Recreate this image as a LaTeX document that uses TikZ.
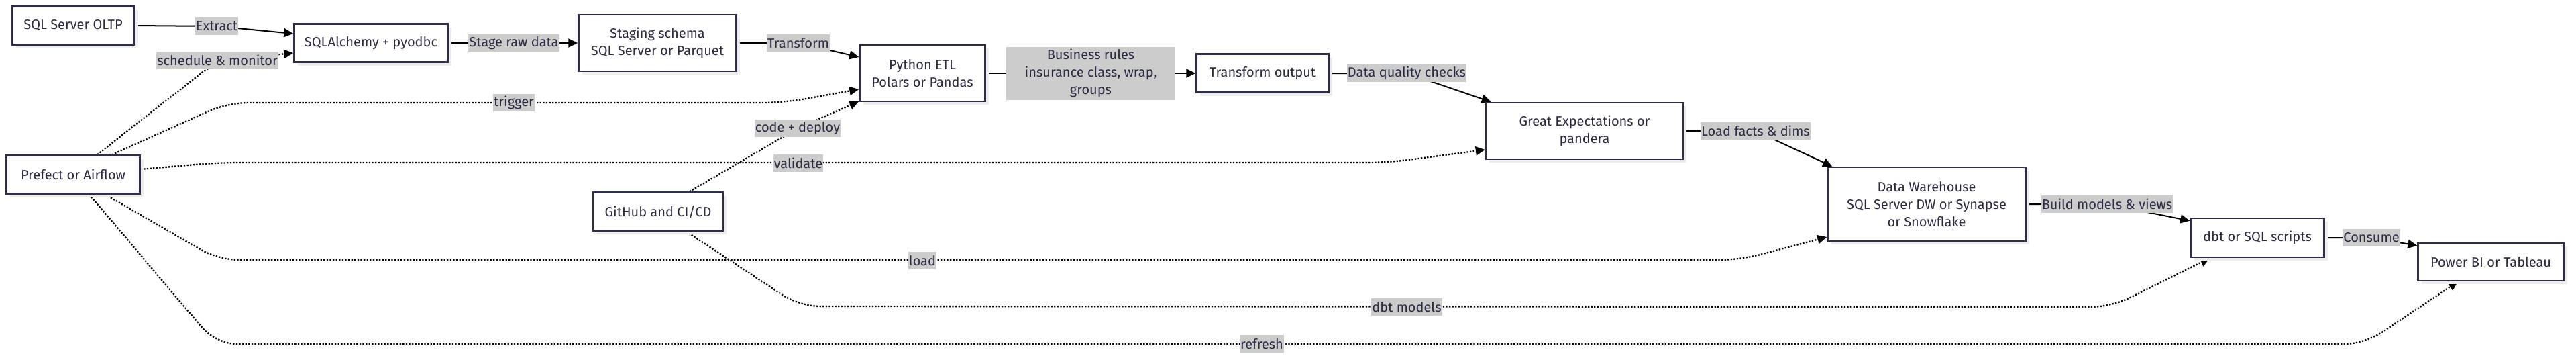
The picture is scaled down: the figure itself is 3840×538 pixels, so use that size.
\documentclass[tikz,border=0pt]{standalone}
\usepackage{fontspec}
\setmainfont{Fira Sans}
\usetikzlibrary{arrows.meta,shadows}
\definecolor{ink}{HTML}{2B2B40}
\definecolor{nodeline}{HTML}{2E2E48}
\definecolor{lblgrey}{HTML}{CCCCCC}
\pgfdeclarelayer{edges}
\pgfsetlayers{edges,main}

\begin{document}
\begin{tikzpicture}[x=1pt,y=-1pt]
            \tikzset{
	every node/.style={font=\fontsize{20}{26}\selectfont, text=ink, align=center},
	box/.style={draw=nodeline, line width=2.5pt, fill=white, inner sep=0pt,
		drop shadow={shadow xshift=5pt, shadow yshift=-5pt, fill=black!7, opacity=1}},
	lbl/.style={fill=lblgrey, inner xsep=1pt, inner ysep=0pt, minimum height=26pt},
	flow/.style={draw=black, line width=2pt, -{Triangle[length=14pt,width=13pt]}},
	ctrl/.style={flow, line width=2.3pt, dash pattern=on 2.3pt off 2.3pt, rounded corners=30pt}
}
\useasboundingbox (0,0) rectangle (3840,538);

% pipeline
\node[box, minimum width=181pt, minimum height=57pt] (oltp) at (109,38) {SQL Server OLTP};
\node[box, minimum width=229pt, minimum height=57pt] (sqla) at (553,64) {SQLAlchemy + pyodbc};
\node[box, minimum width=235pt, minimum height=84pt] (stage) at (980,64) {Staging schema\\SQL Server or Parquet};
\node[box, minimum width=187pt, minimum height=84pt] (etl) at (1375,109) {Python ETL\\Polars or Pandas};
\node[box, minimum width=197pt, minimum height=57pt] (tout) at (1882,109) {Transform output};
\node[box, minimum width=294pt, minimum height=84pt] (ge) at (2362,195) {Great Expectations or\\pandera};
\node[box, minimum width=295pt, minimum height=110pt] (dw) at (2872,304) {Data Warehouse\\SQL Server DW or Synapse\\or Snowflake};
\node[box, minimum width=199pt, minimum height=58pt] (dbt) at (3365,354) {dbt or SQL scripts};
\node[box, minimum width=217pt, minimum height=56pt] (bi) at (3713,390) {Power BI or Tableau};
\node[box, minimum width=199pt, minimum height=57pt] (pref) at (109,260) {Prefect or Airflow};
\node[box, minimum width=194pt, minimum height=57pt] (git) at (981,315) {GitHub and CI/CD};

% edge labels
\node[lbl] (lExtract) at (323,39) {Extract};
\node[lbl] (lSchedule) at (324,90) {schedule \& monitor};
\node[lbl] (lStage) at (766,64) {Stage raw data};
\node[lbl] (lTransform) at (1190,64) {Transform};
\node[lbl, minimum width=252pt, minimum height=79pt] (lRules) at (1626,109) {Business rules\\insurance class, wrap,\\groups};
\node[lbl] (lQuality) at (2097,109) {Data quality checks};
\node[lbl] (lLoadFacts) at (2617,195) {Load facts \& dims};
\node[lbl] (lBuild) at (3141,304) {Build models \& views};
\node[lbl] (lConsume) at (3535,354) {Consume};
\node[lbl] (lTrigger) at (766,153) {trigger};
\node[lbl] (lValidate) at (1190,243) {validate};
\node[lbl] (lLoad) at (1375,388) {load};
\node[lbl] (lRefresh) at (1881,512) {refresh};
\node[lbl] (lDeploy) at (1189,191) {code + deploy};
\node[lbl] (lDbt) at (2097,457) {dbt models};

\begin{pgfonlayer}{edges}
% data flow
\draw[flow] (oltp.east) -- (lExtract.center) -- ([yshift=14pt]sqla.west);
\draw[flow] (sqla) -- (stage);
\draw[flow] (stage.east) -- (lTransform.center) -- ([yshift=24pt]etl.west);
\draw[flow] (etl) -- (tout);
\draw[flow] (tout.east) -- (lQuality.center) -- ([xshift=9pt]ge.north west);
\draw[flow] (ge.east) -- (lLoadFacts.center) -- ([xshift=8pt]dw.north west);
\draw[flow] (dw.east) -- (lBuild.center) -- ([yshift=-5pt]dbt.north west);
\draw[flow] (dbt.east) -- (lConsume.center) -- ([yshift=-5pt]bi.north west);
% orchestration
\draw[ctrl] ([xshift=36pt]pref.north) -- (lSchedule.center) -- ([yshift=-15pt]sqla.west);
\draw[ctrl] ([xshift=58pt]pref.north) -- (339,153) -- (1167,153) -- ([yshift=-24pt]etl.west);
\draw[ctrl] ([yshift=8pt]pref.east) -- (326,242) -- (2069,242) -- ([yshift=-28pt]ge.west);
\draw[ctrl] ([xshift=48pt]pref.south) -- (326,387) -- (2593,387) -- ([yshift=-49pt]dw.west);
\draw[ctrl] ([xshift=24pt]pref.south) -- (322,512) -- (3525,512) -- ([xshift=-49pt]bi.south);
% ci/cd
\draw[ctrl] ([xshift=47pt]git.north) -- (lDeploy.center) -- ([yshift=-42pt]etl.west);
\draw[ctrl] ([xshift=42pt]git.south) -- (1192,456) -- (3147,457) -- ([xshift=-71pt]dbt.south);
\end{pgfonlayer}
        \end{tikzpicture}
\end{document}
